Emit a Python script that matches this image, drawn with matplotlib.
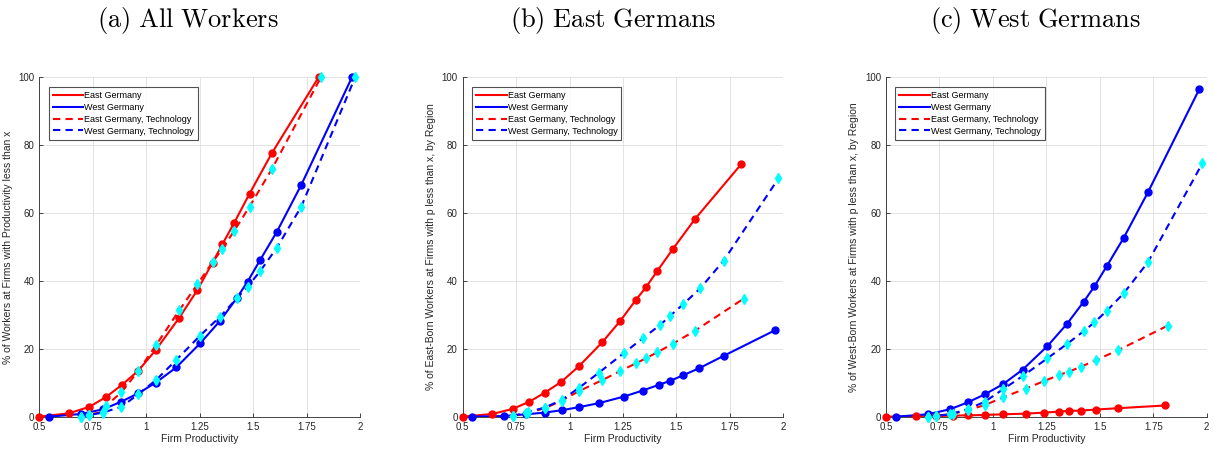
import numpy as np
import matplotlib
matplotlib.use('Agg')
import matplotlib.pyplot as plt

plt.rcParams['font.family'] = ['Liberation Sans', 'DejaVu Sans']
plt.rcParams['mathtext.fontset'] = 'cm'

# ---------------------------------------------------------------------------
# Data (x = firm productivity, y = % of workers)

# (a) All workers
a_east_x = [0.5, 0.639, 0.734, 0.812, 0.885, 0.962, 1.044, 1.155, 1.239, 1.31, 1.356, 1.412, 1.483, 1.587, 1.806]
a_east_y = [0.0, 1.0, 2.9, 5.8, 9.3, 13.5, 19.6, 29.2, 37.3, 45.4, 50.8, 57.2, 65.7, 77.6, 100.0]
a_west_x = [0.545, 0.695, 0.8, 0.882, 0.963, 1.044, 1.14, 1.252, 1.346, 1.424, 1.474, 1.533, 1.611, 1.725, 1.962]
a_west_y = [0.0, 0.8, 2.2, 4.4, 6.9, 10.0, 14.5, 21.6, 28.3, 35.0, 39.8, 46.2, 54.5, 68.3, 100.0]
a_east_tech_x = [0.695, 0.734, 0.796, 0.812, 0.884, 0.962, 1.046, 1.155, 1.239, 1.31, 1.356, 1.412, 1.483, 1.587, 1.817]
a_east_tech_y = [0.0, 0.6, 1.4, 3.2, 7.2, 13.4, 21.1, 31.4, 39.0, 45.5, 49.5, 54.8, 61.9, 72.9, 100.0]
a_west_tech_x = [0.695, 0.734, 0.796, 0.884, 0.962, 1.046, 1.14, 1.252, 1.346, 1.424, 1.474, 1.533, 1.611, 1.725, 1.977]
a_west_tech_y = [0.0, 0.5, 1.2, 2.9, 6.6, 10.8, 16.7, 23.9, 29.5, 34.9, 38.3, 42.9, 49.8, 61.9, 100.0]

# (b) East Germans
b_east_x = [0.5, 0.639, 0.734, 0.812, 0.885, 0.962, 1.046, 1.154, 1.238, 1.31, 1.357, 1.411, 1.482, 1.586, 1.804]
b_east_y = [0.0, 0.8, 2.3, 4.4, 7.1, 10.3, 15.0, 22.0, 28.3, 34.4, 38.1, 43.0, 49.3, 58.2, 74.5]
b_west_x = [0.545, 0.695, 0.796, 0.884, 0.963, 1.044, 1.138, 1.253, 1.342, 1.418, 1.472, 1.531, 1.607, 1.72, 1.962]
b_west_y = [0.0, 0.2, 0.7, 1.2, 1.9, 2.8, 4.0, 5.9, 7.7, 9.4, 10.6, 12.2, 14.3, 17.9, 25.5]
b_east_tech_x = [0.734, 0.798, 0.884, 0.963, 1.046, 1.154, 1.238, 1.31, 1.357, 1.411, 1.483, 1.586, 1.815]
b_east_tech_y = [0.2, 1.0, 2.5, 4.7, 7.6, 10.8, 13.5, 15.7, 17.2, 19.0, 21.5, 25.3, 34.8]
b_west_tech_x = [0.734, 0.804, 0.884, 0.963, 1.044, 1.138, 1.253, 1.342, 1.423, 1.472, 1.531, 1.611, 1.721, 1.977]
b_west_tech_y = [0.2, 1.3, 2.7, 4.9, 8.5, 13.0, 18.7, 23.1, 27.0, 29.8, 33.1, 37.8, 46.0, 70.2]

# (c) West Germans
c_east_x = [0.5, 0.639, 0.734, 0.812, 0.885, 0.962, 1.048, 1.154, 1.24, 1.31, 1.357, 1.411, 1.483, 1.586, 1.806]
c_east_y = [0.0, 0.1, 0.2, 0.3, 0.4, 0.5, 0.7, 0.9, 1.2, 1.5, 1.7, 1.8, 2.1, 2.5, 3.3]
c_west_x = [0.547, 0.695, 0.8, 0.882, 0.963, 1.048, 1.14, 1.255, 1.346, 1.425, 1.475, 1.533, 1.611, 1.725, 1.966]
c_west_y = [0.0, 0.7, 2.2, 4.2, 6.6, 9.6, 13.9, 20.8, 27.3, 33.9, 38.4, 44.4, 52.6, 66.1, 96.6]
c_east_tech_x = [0.695, 0.734, 0.812, 0.885, 0.962, 1.048, 1.154, 1.24, 1.31, 1.357, 1.411, 1.483, 1.586, 1.817]
c_east_tech_y = [0.0, 0.3, 0.8, 2.0, 3.4, 5.7, 8.3, 10.5, 12.3, 13.3, 14.7, 16.7, 19.6, 26.8]
c_west_tech_x = [0.695, 0.734, 0.8, 0.882, 0.962, 1.048, 1.14, 1.255, 1.346, 1.425, 1.475, 1.533, 1.611, 1.725, 1.98]
c_west_tech_y = [0.0, 0.2, 0.7, 2.2, 4.4, 8.1, 12.0, 17.2, 21.4, 25.2, 27.8, 31.2, 36.3, 45.5, 74.7]

titles = [r'$\mathrm{(a)\ All\ Workers}$', r'$\mathrm{(b)\ East\ Germans}$', r'$\mathrm{(c)\ West\ Germans}$']
ylabels = ['% of Workers at Firms with Productivity less than x',
           '% of East-Born Workers at Firms with p less than x, by Region',
           '% of West-Born Workers at Firms with p less than x, by Region']
legend_labels = ['East Germany', 'West Germany', 'East Germany, Technology', 'West Germany, Technology']
xticks = [0.5, 0.75, 1, 1.25, 1.5, 1.75, 2]
xticklabels = ['0.5', '0.75', '1', '1.25', '1.5', '1.75', '2']
yticks = [0, 20, 40, 60, 80, 100]

panels = [
    (a_east_x, a_east_y, a_west_x, a_west_y, a_east_tech_x, a_east_tech_y, a_west_tech_x, a_west_tech_y),
    (b_east_x, b_east_y, b_west_x, b_west_y, b_east_tech_x, b_east_tech_y, b_west_tech_x, b_west_tech_y),
    (c_east_x, c_east_y, c_west_x, c_west_y, c_east_tech_x, c_east_tech_y, c_west_tech_x, c_west_tech_y),
]

RED = '#FF0000'
BLUE = '#0000FF'
CYAN = '#00FFFF'
AXC = '#262626'

fig = plt.figure(figsize=(12.14, 4.51), dpi=100)

lefts = [0.0324, 0.3811, 0.7298]
title_x = [188, 613, 1036]

for i, (ex, ey, wx, wy, etx, ety, wtx, wty) in enumerate(panels):
    ax = fig.add_axes([lefts[i], 0.0761, 0.2642, 0.7525])

    ax.plot(ex, ey, color=RED, lw=1.5, label=legend_labels[0], zorder=3)
    ax.plot(wx, wy, color=BLUE, lw=1.5, label=legend_labels[1], zorder=3)
    ax.plot(etx, ety, color=RED, lw=1.5, ls=(0, (3.5, 2.5)), label=legend_labels[2], zorder=3)
    ax.plot(wtx, wty, color=BLUE, lw=1.5, ls=(0, (3.5, 2.5)), label=legend_labels[3], zorder=3)

    # markers (kept out of legend)
    ax.plot(ex, ey, 'o', color=RED, ms=5, zorder=4, clip_on=False)
    ax.plot(wx, wy, 'o', color=BLUE, ms=5, zorder=4, clip_on=False)
    ax.plot(etx, ety, 'd', color=CYAN, ms=5, zorder=5, clip_on=False)
    ax.plot(wtx, wty, 'd', color=CYAN, ms=5, zorder=5, clip_on=False)

    ax.set_xlim(0.5, 2)
    ax.set_ylim(0, 100)
    ax.set_xticks(xticks)
    ax.set_xticklabels(xticklabels)
    ax.set_yticks(yticks)
    ax.tick_params(direction='in', length=3, labelsize=7, colors=AXC, width=0.6)
    ax.grid(True, color='#DFDFDF', lw=0.6)
    ax.set_axisbelow(True)
    for s in ['top', 'right']:
        ax.spines[s].set_visible(False)
    for s in ['left', 'bottom']:
        ax.spines[s].set_color(AXC)
        ax.spines[s].set_linewidth(0.6)

    ax.set_xlabel('Firm Productivity', fontsize=7.5, color=AXC, labelpad=2)
    ax.set_ylabel(ylabels[i], fontsize=7.5, color=AXC, labelpad=4)

    leg = ax.legend(loc='upper left', fontsize=6.5, frameon=True, fancybox=False,
                    edgecolor='#262626', borderpad=0.45, labelspacing=0.32,
                    handlelength=3.4, handletextpad=0.1, bbox_to_anchor=(0.015, 0.985))
    leg.get_frame().set_linewidth(0.8)

    fig.text(title_x[i] / 1214, 1 - 20 / 451, titles[i], fontsize=19, ha='center', va='center')

fig.savefig('out.png', dpi=100)
